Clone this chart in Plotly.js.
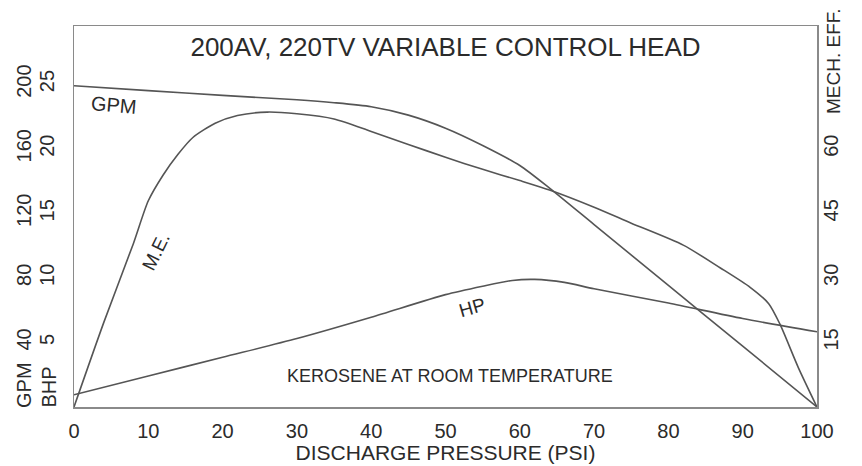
<!DOCTYPE html>
<html>
<head>
<meta charset="utf-8">
<script src="https://cdn.plot.ly/plotly-3.0.1.min.js"></script>
<style>html,body{margin:0;padding:0;background:#fff;}#chart{width:862px;height:466px;}</style>
</head>
<body>
<div id="chart"></div>
<script>
// Discharge pressure (PSI) sample points and values
const psiGPM = [0, 10, 20, 30, 35, 40, 45, 50, 55, 60, 64, 70, 80, 90, 100];
const gpm    = [199, 196, 193, 190.3, 188.5, 186, 180.8, 172.7, 162, 149.6, 135.6, 113, 75.3, 37.7, 0];

const psiME = [0, 4, 8, 10, 12, 14, 16, 19, 22, 26, 30, 35, 40, 45, 50, 55, 60, 64, 70, 75, 82, 87, 91, 93.5, 95, 97.5, 100];
const mechEff = [0, 19.6, 38, 47.9, 53.9, 58.7, 62.6, 65.9, 67.7, 68.5, 68.1, 66.9, 64.0, 61.0, 58.0, 55.2, 52.6, 50.4, 46.4, 42.7, 37.6, 32.3, 27.8, 24, 19.3, 9.1, 0];

const psiHP = [0, 10, 20, 30, 40, 50, 55, 59, 62, 66, 70, 80, 90, 100];
const bhp   = [0.95, 2.4, 3.85, 5.3, 6.95, 8.7, 9.35, 9.8, 9.88, 9.65, 9.15, 8.05, 6.85, 5.82];

const xTicks = [0, 10, 20, 30, 40, 50, 60, 70, 80, 90, 100];
const bhpTicks = [5, 10, 15, 20, 25];
const gpmTicks = [40, 80, 120, 160, 200];
const meTicks = [15, 30, 45, 60];

const FONT = '"Liberation Sans", Arial, Helvetica, sans-serif';
const TXT = '#2b2b2b';
const LINE = '#555555';

const lineStyle = {color: LINE, width: 1.6, shape: 'spline', smoothing: 0.7};

const traces = [
  {x: psiGPM, y: gpm, yaxis: 'y3', type: 'scatter', mode: 'lines', line: lineStyle, name: 'GPM', hoverinfo: 'x+y'},
  {x: psiME, y: mechEff, yaxis: 'y2', type: 'scatter', mode: 'lines', line: lineStyle, name: 'M.E.', hoverinfo: 'x+y'},
  {x: psiHP, y: bhp, yaxis: 'y', type: 'scatter', mode: 'lines', line: lineStyle, name: 'HP', hoverinfo: 'x+y'}
];

const L = 74, R = 817, T = 26, B = 407;
const px = v => (v - L) / (R - L);
const py = v => (B - v) / (B - T);

const layout = {
  width: 862, height: 466,
  margin: {l: L, r: 862 - R, t: T, b: 466 - B},
  paper_bgcolor: '#fff', plot_bgcolor: '#fff',
  showlegend: false,
  font: {family: FONT, color: TXT, size: 20},
  title: {
    text: '200AV, 220TV VARIABLE CONTROL HEAD',
    font: {family: FONT, size: 26, color: TXT},
    x: 0.5, xref: 'paper', xanchor: 'center',
    y: 1 - 47 / 466, yref: 'container', yanchor: 'middle'
  },
  xaxis: {
    range: [0, 100], tickvals: xTicks, ticks: '', showgrid: false, zeroline: false,
    showline: true, mirror: true, linecolor: '#8a8a8a', linewidth: 1.5,
    tickfont: {size: 20, color: TXT}, ticklabelstandoff: 5,
    title: {text: 'DISCHARGE PRESSURE (PSI)', font: {size: 21, color: TXT}, standoff: 4}
  },
  yaxis: {
    range: [0, 29.5], tickvals: bhpTicks, ticks: '', showgrid: false, zeroline: false,
    showline: true, mirror: true, linecolor: '#8a8a8a', linewidth: 1.5,
    tickangle: -90, tickfont: {size: 20, color: TXT}, ticklabelstandoff: 11
  },
  yaxis3: {
    range: [0, 236], tickvals: gpmTicks, ticks: '', showgrid: false, zeroline: false,
    overlaying: 'y', side: 'left', anchor: 'x', showline: false,
    tickangle: -90, tickfont: {size: 20, color: TXT}, ticklabelstandoff: 38
  },
  yaxis2: {
    range: [0, 88.5], tickvals: meTicks, ticks: '', showgrid: false, zeroline: false,
    overlaying: 'y', side: 'right', anchor: 'x', showline: false,
    tickangle: -90, tickfont: {size: 20, color: TXT}, ticklabelstandoff: 0
  },
  annotations: [
    {text: 'GPM', xref: 'x', yref: 'y3', x: 5.4, y: 187, showarrow: false, textangle: 5, font: {size: 20, color: TXT}},
    {text: 'M.E.', xref: 'x', yref: 'y2', x: 11.0, y: 36.2, showarrow: false, textangle: -64, font: {size: 19, color: TXT}},
    {text: 'HP', xref: 'x', yref: 'y', x: 53.6, y: 7.7, showarrow: false, textangle: -16, font: {size: 19, color: TXT}},
    {text: 'KEROSENE AT ROOM TEMPERATURE', xref: 'paper', yref: 'paper', x: px(450), y: py(388), showarrow: false, font: {size: 18, color: TXT}},
    {text: 'GPM', xref: 'paper', yref: 'paper', x: px(24), y: py(410), xanchor: 'center', yanchor: 'bottom', showarrow: false, textangle: -90, font: {size: 20, color: TXT}},
    {text: 'BHP', xref: 'paper', yref: 'paper', x: px(48), y: py(410), xanchor: 'center', yanchor: 'bottom', showarrow: false, textangle: -90, font: {size: 20, color: TXT}},
    {text: 'MECH. EFF.', xref: 'paper', yref: 'paper', x: px(834), y: py(6), xanchor: 'center', yanchor: 'top', showarrow: false, textangle: -90, font: {size: 19, color: TXT}}
  ]
};

Plotly.newPlot('chart', traces, layout, {staticPlot: true, displayModeBar: false});
</script>
</body>
</html>
